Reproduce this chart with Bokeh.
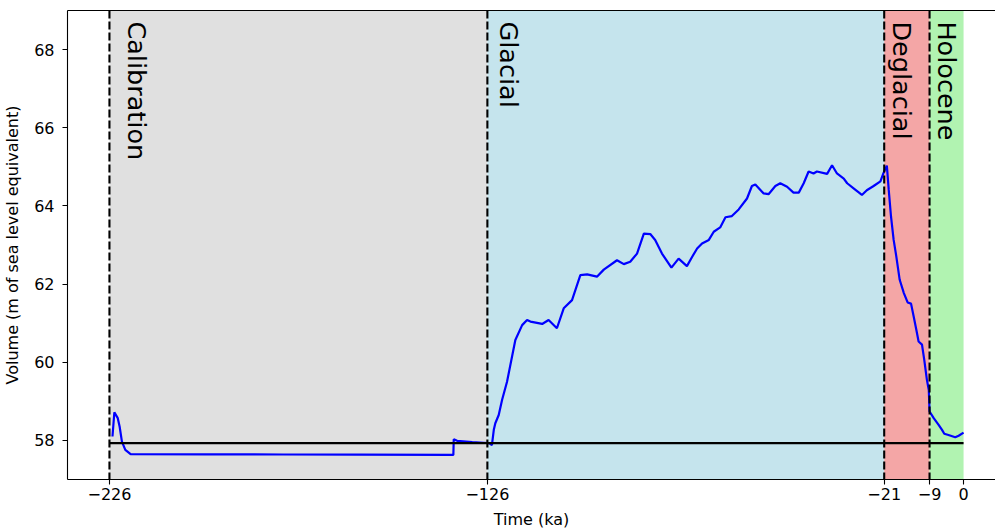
import math
from bokeh.plotting import figure
from bokeh.models import (Range1d, FixedTicker, LinearAxis, BoxAnnotation, Span,
                          ColumnDataSource)
from bokeh.core.properties import value
from bokeh.embed import file_html
from bokeh.resources import INLINE

# ---------------- data ----------------
time_ka = [
    -225.2, -224.7, -223.8, -223.3, -222.7, -221.8, -220.4, -200.0, -180.0, -160.0,
    -135.0, -134.9, -134.0, -130.0, -127.0, -125.5, -124.8, -124.3, -123.9, -123.0,
    -122.1, -120.8, -118.6, -116.8, -115.5, -114.6, -111.5, -109.8, -107.6, -105.8,
    -103.6, -101.4, -99.6, -97.0, -95.2, -91.7, -89.9, -88.2, -86.4, -84.6,
    -82.9, -81.6, -79.8, -77.3, -75.4, -73.2, -71.8, -70.5, -69.2, -67.4,
    -66.1, -64.4, -63.0, -61.3, -59.5, -57.3, -56.0, -55.1, -52.9, -51.6,
    -49.8, -48.5, -46.7, -45.0, -43.6, -42.3, -41.0, -39.7, -38.8, -36.1,
    -34.8, -33.5, -31.7, -30.8, -29.1, -26.9, -25.6, -23.8, -22.0, -21.2,
    -20.3, -19.8, -19.2, -18.5, -17.8, -16.9, -15.8, -14.8, -13.9, -13.2,
    -12.5, -11.9, -11.0, -10.4, -9.7, -9.2, -9.0, -7.9, -6.6, -5.7,
    -5.1, -4.0, -2.2, -1.3, 0.0,
]
volume_m = [
    58.10, 58.72, 58.57, 58.35, 57.97, 57.76, 57.65, 57.645, 57.64, 57.635,
    57.63, 58.03, 57.99, 57.96, 57.94, 57.93, 57.88, 58.27, 58.44, 58.65,
    59.04, 59.50, 60.57, 60.95, 61.08, 61.04, 60.98, 61.08, 60.87, 61.38,
    61.59, 62.23, 62.25, 62.19, 62.37, 62.61, 62.51, 62.57, 62.78, 63.29,
    63.28, 63.13, 62.78, 62.42, 62.65, 62.46, 62.70, 62.91, 63.04, 63.13,
    63.34, 63.45, 63.71, 63.74, 63.91, 64.19, 64.51, 64.55, 64.32, 64.30,
    64.51, 64.58, 64.49, 64.34, 64.34, 64.58, 64.88, 64.83, 64.88, 64.82,
    65.04, 64.83, 64.70, 64.58, 64.45, 64.28, 64.40, 64.51, 64.63, 64.84,
    65.03, 64.41, 63.73, 63.13, 62.71, 62.11, 61.77, 61.53, 61.50, 61.17,
    60.83, 60.53, 60.45, 60.06, 59.55, 59.29, 58.74, 58.57, 58.40, 58.27,
    58.17, 58.14, 58.08, 58.12, 58.20,
]

present_volume = 57.93
ref_line_x = [-226, 0]

period_names = ["Calibration", "Glacial", "Deglacial", "Holocene"]
period_start = [-226, -126, -21, -9]
period_end = [-126, -21, -9, 0]
period_colors = ["#d3d3d3", "#add8e6", "#f08080", "#90ee90"]
boundaries = [-226, -126, -21, -9]

label_x = [-218.6, -120.3, -16.2, -4.3]
label_y = [68.72, 68.72, 68.72, 68.72]

x_ticks = [-226, -126, -21, -9, 0]
x_tick_labels = ["\u2212226", "\u2212126", "\u221221", "\u22129", "0"]
y_ticks = [58, 60, 62, 64, 66, 68]

FONT = "DejaVu Sans"

# ---------------- figure ----------------
p = figure(width=995, height=531,
           x_range=Range1d(-237.1, 8.45), y_range=Range1d(57, 69),
           output_backend="svg", toolbar_location=None,
           min_border_left=67, min_border_right=0, min_border_top=10,
           min_border_bottom=52)
p.background_fill_color = "white"
p.border_fill_color = "white"
p.outline_line_color = None
p.xgrid.visible = False
p.ygrid.visible = False

for s, e, c in zip(period_start, period_end, period_colors):
    p.add_layout(BoxAnnotation(left=s, right=e, fill_color=c, fill_alpha=0.7,
                               line_color=None, level="underlay"))

p.line(time_ka, volume_m, line_color="#0000ff", line_width=2.2)
p.line(ref_line_x, [present_volume] * len(ref_line_x), line_color="black",
       line_width=2.1)

for b in boundaries:
    p.add_layout(Span(location=b, dimension="height", line_color="black",
                      line_width=2.1, line_dash="8 3"))

src = ColumnDataSource(dict(x=label_x, y=label_y, t=period_names))
p.text(x="x", y="y", text="t", source=src, angle=-math.pi / 2,
       text_font=value(FONT), text_font_size="25.5px", text_color="black",
       text_align="left", text_baseline="alphabetic")

# axes styling
for ax in (p.xaxis[0], p.yaxis[0]):
    ax.axis_line_color = "black"
    ax.axis_line_width = 1.1
    ax.major_tick_line_color = "black"
    ax.major_tick_line_width = 1.1
    ax.major_tick_out = 5
    ax.major_tick_in = 0
    ax.minor_tick_out = 0
    ax.minor_tick_in = 0
    ax.major_label_text_font = FONT
    ax.major_label_text_font_size = "16px"
    ax.major_label_text_color = "black"
    ax.axis_label_text_font = FONT
    ax.axis_label_text_font_size = "16px"
    ax.axis_label_text_font_style = "normal"
    ax.axis_label_text_color = "black"

p.xaxis.ticker = FixedTicker(ticks=x_ticks)
p.xaxis.major_label_overrides = {t: l for t, l in zip(x_ticks, x_tick_labels)}
p.xaxis.axis_label = "Time (ka)"
p.xaxis.major_label_standoff = 3
p.xaxis.axis_label_standoff = 7

p.yaxis.ticker = FixedTicker(ticks=y_ticks)
p.yaxis.axis_label = "Volume (m of sea level equivalent)"
p.yaxis.major_label_standoff = 8
p.yaxis.axis_label_standoff = 9

top_axis = LinearAxis(ticker=FixedTicker(ticks=[]), axis_line_color="black",
                      axis_line_width=1.1, major_tick_out=0, major_tick_in=0,
                      minor_tick_out=0, minor_tick_in=0,
                      major_label_text_font_size="0px", major_label_standoff=0)
p.add_layout(top_axis, "above")

open("out.html", "w").write(file_html(p, INLINE))
